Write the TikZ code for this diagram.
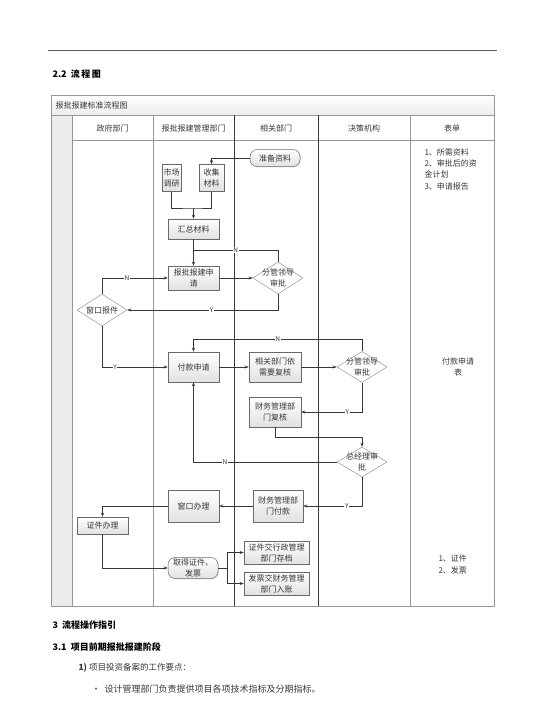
\documentclass[tikz,border=0pt]{standalone}
\usepackage{fontspec}
\setmainfont{Noto Sans CJK SC}
\usetikzlibrary{arrows.meta,positioning,calc,shapes.geometric,shadows}
\definecolor{Ink}{RGB}{55,55,55}
\definecolor{LineGray}{RGB}{150,150,150}
\definecolor{BoxGray}{RGB}{225,225,225}
\definecolor{HeadGray}{RGB}{236,236,236}

\begin{document}
\begin{tikzpicture}[
      x=1pt,y=-1pt,
      box/.style={draw=Ink!75,top color=white,bottom color=BoxGray,inner sep=0.5pt,
                  font=\fontsize{8}{11}\selectfont,align=center,text=Ink,line width=0.5pt,
                  drop shadow={shadow xshift=0.8pt,shadow yshift=-0.8pt,opacity=0.25}},
      term/.style={box,rounded corners=7pt},
      dia/.style={diamond,draw=LineGray,fill=white,inner sep=0pt,line width=0.5pt},
      dtxt/.style={font=\fontsize{8}{10.5}\selectfont,align=center,text=Ink},
      ar/.style={-{Stealth[length=4pt,width=3pt]},line width=0.5pt,color=Ink},
      ln/.style={line width=0.5pt,color=Ink},
      yn/.style={fill=white,inner sep=0.6pt,font=\fontsize{6.5}{7}\selectfont,text=Ink},
      grid/.style={line width=0.6pt,color=LineGray},
      hd/.style={font=\fontsize{8}{10}\selectfont,text=Ink},
      sec/.style={font=\fontsize{9}{11}\selectfont\bfseries,anchor=west}
    ]
    \useasboundingbox (0,0) rectangle (544,723);

    % Page header
    \draw[line width=0.7pt,color=Ink!80] (48,50) -- (497,50);
    \node(h22)[sec] at (49,74) {2.2\ \ 流\,程\,图};

    % Table frame
    \shade[top color=white,bottom color=HeadGray] (51,95) rectangle (494,115);
    \fill[HeadGray] (51,115) rectangle (72,606);
    \draw[grid] (51,95) rectangle (494,606);
    \draw[grid] (51,115) -- (494,115);
    \draw[grid] (72,140) -- (494,140);
    \draw[grid] (72,115) -- (72,606);
    \draw[grid] (153,115) -- (153,606);
    \draw[grid,color=Ink] (234,115) -- (234,606);
    \draw[grid,color=Ink] (318,115) -- (318,606);
    \draw[grid] (410,115) -- (410,606);

    \node(title)[hd,anchor=west] at (52,105) {报批报建标准流程图};
    \node(c1)[hd] at (112.5,128) {政府部门};
    \node(c2)[hd] at (193.5,128) {报批报建管理部门};
    \node(c3)[hd] at (276,128) {相关部门};
    \node(c4)[hd] at (364,128) {决策机构};
    \node(c5)[hd] at (452,128) {表单};

    % Stage 1: preparation
    \node(zbzl)[term,minimum width=50pt,minimum height=17pt] at (275,158) {准备资料};
    \node(scdy)[box,minimum width=19pt,minimum height=27pt] at (171.5,178) {市场\\调研};
    \node(sjcl)[box,minimum width=25pt,minimum height=27pt] at (211.5,178) {收集\\材料};
    \node(hzcl)[box,minimum width=51pt,minimum height=20pt] at (193.5,229) {汇总材料};
    \node(bbsq)[box,minimum width=51pt,minimum height=24pt] at (193.5,278) {报批报建申\\请};
    \node(fg1)[dia,minimum width=50pt,minimum height=32pt,
      label={[dtxt]center:分管领导\\审批}] at (278,278) {};
    \node(ckbj)[dia,minimum width=50pt,minimum height=32pt,
      label={[dtxt]center:窗口报件}] at (102,310) {};

    % Stage 2: payment
    \node(fksq)[box,minimum width=51pt,minimum height=30pt] at (193.5,367) {付款申请};
    \node(xgfh)[box,minimum width=52pt,minimum height=30pt] at (275,367) {相关部门依\\需要复核};
    \node(fg2)[dia,minimum width=50pt,minimum height=31pt,
      label={[dtxt]center:分管领导\\审批}] at (362,367) {};
    \node(cwfh)[box,minimum width=52pt,minimum height=30pt] at (275,412) {财务管理部\\门复核};
    \node(zjl)[dia,minimum width=50pt,minimum height=30pt,
      label={[dtxt]center:总经理审\\批}] at (362,462) {};
    \node(cwfk)[box,minimum width=50pt,minimum height=32pt] at (278,506) {财务管理部\\门付款};
    \node(ckbl)[box,minimum width=51pt,minimum height=32pt] at (193.5,506) {窗口办理};

    % Stage 3: certificates
    \node(zjbl)[box,minimum width=51pt,minimum height=17pt] at (102.5,525.5) {证件办理};
    \node(qdzj)[term,minimum width=50pt,minimum height=21pt] at (193,568) {取得证件、\\发票};
    \node(zjcd)[box,minimum width=65pt,minimum height=23pt] at (276.5,552.5) {证件交行政管理\\部门存档};
    \node(fpcw)[box,minimum width=65pt,minimum height=23pt] at (276.5,583.5) {发票交财务管理\\部门入账};

    % Forms column
    \node(f1)[dtxt,align=left,anchor=north west,font=\fontsize{8}{11.3}\selectfont] at (421,145) {1、所需资料\\2、审批后的资\\金计划\\3、申请报告};
    \node(f2)[dtxt] at (458,367) {付款申请\\表};
    \node(f3)[dtxt,align=left,anchor=west,font=\fontsize{8}{12}\selectfont] at (435,564) {1、证件\\2、发票};

    % Helper points
    \coordinate (hb) at (193.5,208);
    \coordinate (nj1) at (193.5,250);
    \coordinate (lp2) at (362,339);
    \coordinate (lp3) at (362,437);
    \coordinate (fz) at (227,568);

    % Stage 1 arrows
    \draw[ar] (zbzl.west) -| (sjcl.north);
    \draw[ln] (scdy.south) |- (hb) -| (sjcl.south);
    \draw[ar] (hb) -- (hzcl.north);
    \draw[ar] (hzcl) -- (bbsq);
    \draw[ar] (bbsq) -- (fg1);
    \draw[ln] (fg1.north) |- node[yn,pos=0.75]{N} (nj1);
    \draw[ar] (fg1.south) |- node[yn,pos=0.72]{Y} (ckbj.east);
    \draw[ar] (ckbj.north) |- node[yn,pos=0.69]{N} (bbsq.west);
    \draw[ar] (ckbj.south) |- node[yn,pos=0.6]{Y} (fksq.west);

    % Stage 2 arrows
    \draw[ar] (fksq) -- (xgfh);
    \draw[ar] (xgfh) -- (fg2);
    \draw[ar] (fg2.north) -- (lp2) -| node[yn,pos=0.25]{N} (fksq.north);
    \draw[ar] (fg2.south) |- node[yn,pos=0.62]{Y} (cwfh.east);
    \draw[ar] (cwfh.south) |- (lp3) -- (zjl.north);
    \draw[ar] (zjl.west) -| node[yn,pos=0.39]{N} (fksq.south);
    \draw[ar] (zjl.south) |- node[yn,pos=0.63]{Y} (cwfk.east);
    \draw[ar] (cwfk) -- (ckbl);

    % Stage 3 arrows
    \draw[ar] (ckbl.west) -| (zjbl.north);
    \draw[ar] (zjbl.south) |- (qdzj.west);
    \draw[ln] (qdzj.east) -- (fz);
    \draw[ar] (fz) |- (zjcd.west);
    \draw[ar] (fz) |- (fpcw.west);

    % Text below the chart
    \node(h3)[sec] at (49,625) {3\ \ 流程操作指引};
    \node(h31)[sec] at (49,647) {3.1\ \ 项目前期报批报建阶段};
    \node(p1)[anchor=west,font=\fontsize{8.5}{10}\selectfont,text=Ink] at (75,668) {\textbf{1)}\ 项目投资备案的工作要点：};
    \node(b1)[anchor=west,font=\fontsize{9}{10}\selectfont,text=Ink] at (88,689) {•\ \ 设计管理部门负责提供项目各项技术指标及分期指标。};
  \end{tikzpicture}
\end{document}
